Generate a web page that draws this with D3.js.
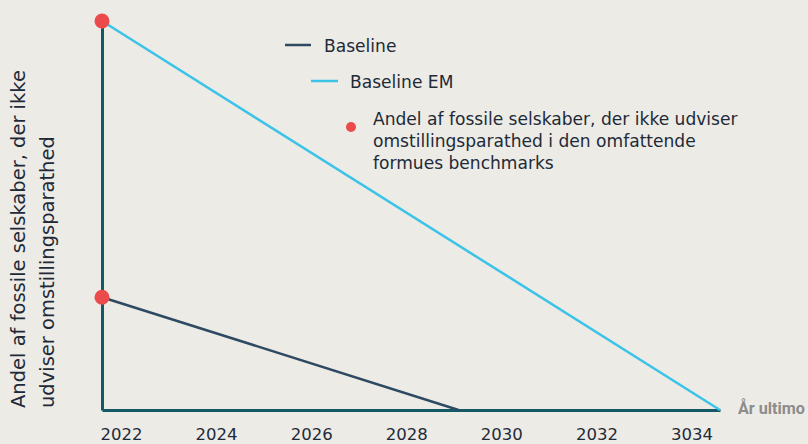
<!DOCTYPE html>
<html><head><meta charset="utf-8">
<script src="https://cdn.jsdelivr.net/npm/d3@7"></script>
<style>
html,body{margin:0;padding:0;background:#edebe6;}
svg{display:block;}
</style></head>
<body>
<svg id="c" width="808" height="444"></svg>
<script>
const seriesNames = ["Baseline", "Baseline EM"];
const baselineYears = [2022, 2029.5];
const baselineValues = [29, 0];
const emYears = [2022, 2035];
const emValues = [100, 0];
const tickYears = [2022, 2024, 2026, 2028, 2030, 2032, 2034];
const tickLabels = ["2022", "2024", "2026", "2028", "2030", "2032", "3034"];
const dotLegend = ["Andel af fossile selskaber, der ikke udviser", "omstillingsparathed i den omfattende", "formues benchmarks"];
const yTitle = ["Andel af fossile selskaber, der ikke", "udviser omstillingsparathed"];
const xTitle = "År ultimo";

const colors = {axis:"#135a66", base:"#2e4a62", em:"#3cc3e8", dot:"#eb4b4b", text:"#1e2a38"};
const font = "'DejaVu Sans', 'Open Sans', sans-serif";

// scale a text's font size so that it spans a given width
function fit(sel, base, width) {
  sel.attr("font-size", base);
  const w = sel.node().getComputedTextLength();
  if (w > 0) sel.attr("font-size", base * width / w);
  return sel;
}

const svg = d3.select("#c");
const x = d3.scaleLinear().domain([2022, 2035]).range([102, 720]);
const y = d3.scaleLinear().domain([0, 100]).range([410, 21]);

const xAxis = d3.axisBottom(x).tickValues(tickYears).tickSize(0).tickFormat((d,i)=>tickLabels[i]);
const gx = svg.append("g").attr("transform", `translate(0,${y(0)})`).call(xAxis);
gx.select(".domain").attr("stroke", colors.axis).attr("stroke-width", 3);
gx.selectAll("text").attr("text-anchor","start").attr("dx","-2").attr("dy","0").attr("y", 30)
  .attr("font-family", font).attr("fill", colors.text)
  .each(function(){ fit(d3.select(this), 16, 42); });

const yAxis = d3.axisLeft(y).tickValues([]).tickSize(0);
const gy = svg.append("g").attr("transform", `translate(${x(2022)},0)`).call(yAxis);
gy.select(".domain").attr("stroke", colors.axis).attr("stroke-width", 3);

const line = d3.line().x(d=>x(d[0])).y(d=>y(d[1]));
svg.append("path").datum(baselineYears.map((v,i)=>[v, baselineValues[i]]))
  .attr("d", line).attr("fill","none").attr("stroke", colors.base).attr("stroke-width", 2.5);
svg.append("path").datum(emYears.map((v,i)=>[v, emValues[i]]))
  .attr("d", line).attr("fill","none").attr("stroke", colors.em).attr("stroke-width", 2.5);

svg.selectAll("circle.pt").data([[baselineYears[0], baselineValues[0]], [emYears[0], emValues[0]]])
  .enter().append("circle").attr("class","pt")
  .attr("cx", d=>x(d[0])).attr("cy", d=>y(d[1])).attr("r", 7.5).attr("fill", colors.dot);

// legend
const lg = svg.append("g").attr("font-family", font).attr("fill", colors.text);
lg.append("line").attr("x1",285).attr("x2",311).attr("y1",45).attr("y2",45).attr("stroke",colors.base).attr("stroke-width",2.5);
lg.append("line").attr("x1",311).attr("x2",338).attr("y1",81).attr("y2",81).attr("stroke",colors.em).attr("stroke-width",2.5);
lg.append("circle").attr("cx",351).attr("cy",127).attr("r",5).attr("fill",colors.dot);
const t0 = lg.append("text").attr("x",373).attr("y",125).text(dotLegend[0]);
fit(t0, 16, 365);
const lfs = +t0.attr("font-size");
lg.append("text").attr("x",324).attr("y",52).attr("font-size",lfs).text(seriesNames[0]);
lg.append("text").attr("x",350).attr("y",88).attr("font-size",lfs).text(seriesNames[1]);
dotLegend.slice(1).forEach((t,i)=>lg.append("text").attr("x",373).attr("y",147+i*22).attr("font-size",lfs).text(t));

// y title
const yt = svg.append("g").attr("transform","translate(0,408) rotate(-90)")
  .attr("font-family", font).attr("fill", colors.text).attr("text-anchor","start");
const y0 = yt.append("text").attr("x",0).attr("y",25).text(yTitle[0]);
fit(y0, 18, 338);
yt.append("text").attr("x",0).attr("y",54).attr("font-size", y0.attr("font-size")).text(yTitle[1]);

// x title
const xt = svg.append("text").attr("x",738).attr("y",414).text(xTitle)
  .attr("font-family","Roboto, 'Liberation Sans', sans-serif").attr("font-weight","bold")
  .attr("fill","#8c8c8c");
fit(xt, 14, 67);
</script>
</body></html>
